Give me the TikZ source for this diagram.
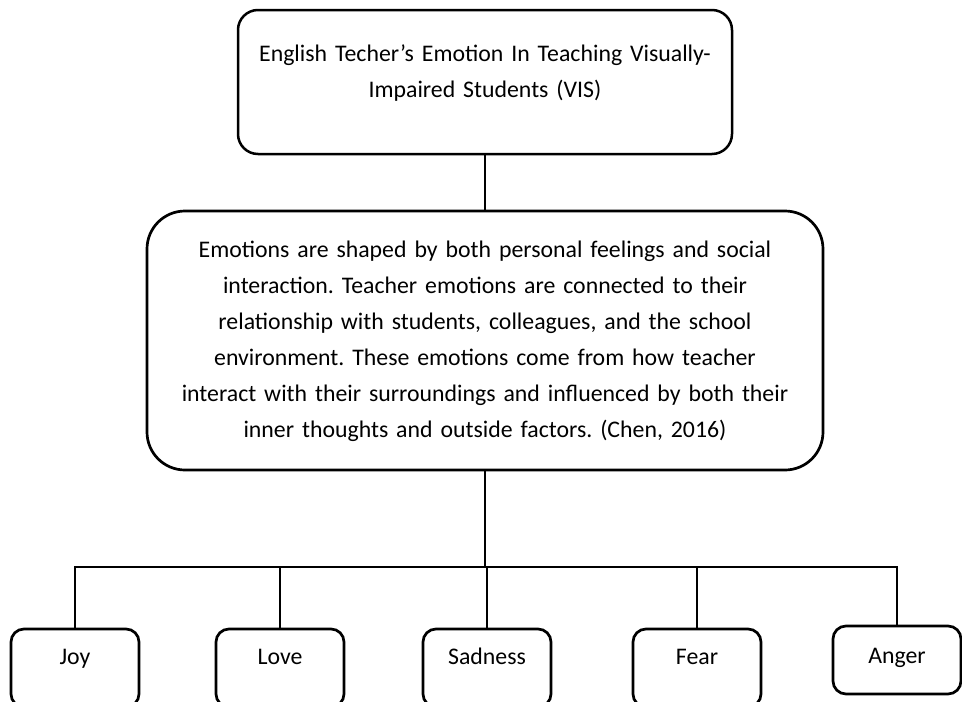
\documentclass[tikz,border=0pt]{standalone}
\usepackage{fontspec}
\setmainfont{Carlito}
\frenchspacing
\usetikzlibrary{positioning}
\tikzset{
  titlebox/.style={rectangle, rounded corners=20pt, draw, line width=2.5pt, outer sep=0pt,
                   text width=478pt, inner xsep=8pt, inner ysep=10pt, align=center,
                   text height=41pt, text depth=83pt, font=\fontsize{23.8}{36}\selectfont},
  infobox/.style={rectangle, rounded corners=38pt, draw, line width=2.7pt, outer sep=0pt,
                  text width=660pt, inner xsep=8pt, inner ysep=10pt, align=center,
                  text height=36pt, text depth=203pt, font=\fontsize{23.8}{36}\selectfont},
  kidbox/.style={rectangle, rounded corners=13pt, draw, line width=2.7pt, outer sep=0pt,
                 minimum width=128pt, inner sep=0pt, text height=35pt, text depth=43pt,
                 font=\fontsize{23.8}{36}\selectfont},
  link/.style={line width=2.1pt}
}
\begin{document}
\begin{tikzpicture}[x=1pt, y=-1pt]
\useasboundingbox (0,0) rectangle (962,702);
\node[titlebox, anchor=north] (top) at (485,10)
  {English Techer’s Emotion In Teaching Visually-\\Impaired Students (VIS)};
\node[infobox, below=57pt of top] (mid)
  {Emotions are shaped by both personal feelings and social\\
   interaction. Teacher emotions are connected to their\\
   relationship with students, colleagues, and the school\\
   environment. These emotions come from how teacher\\
   interact with their surroundings and influenced by both their\\
   inner thoughts and outside factors. (Chen, 2016)};
\coordinate (hub) at (485,567);
% five emotions
\node[kidbox, anchor=north] (joy) at (75,629) {Joy};
\node[kidbox, anchor=north] (love) at (280,629) {Love};
\node[kidbox, anchor=north] (sad) at (487,629) {Sadness};
\node[kidbox, anchor=north] (fear) at (697,629) {Fear};
\node[kidbox, anchor=north, text height=37pt, text depth=31pt] (anger) at (897,626) {Anger};
\draw[link] (top.south) -- (mid.north);
\draw[link] (mid.south) -- (hub);
\foreach \k in {joy,love,sad,fear,anger}
  \draw[link] (\k.north) |- (hub);
\end{tikzpicture}
\end{document}
